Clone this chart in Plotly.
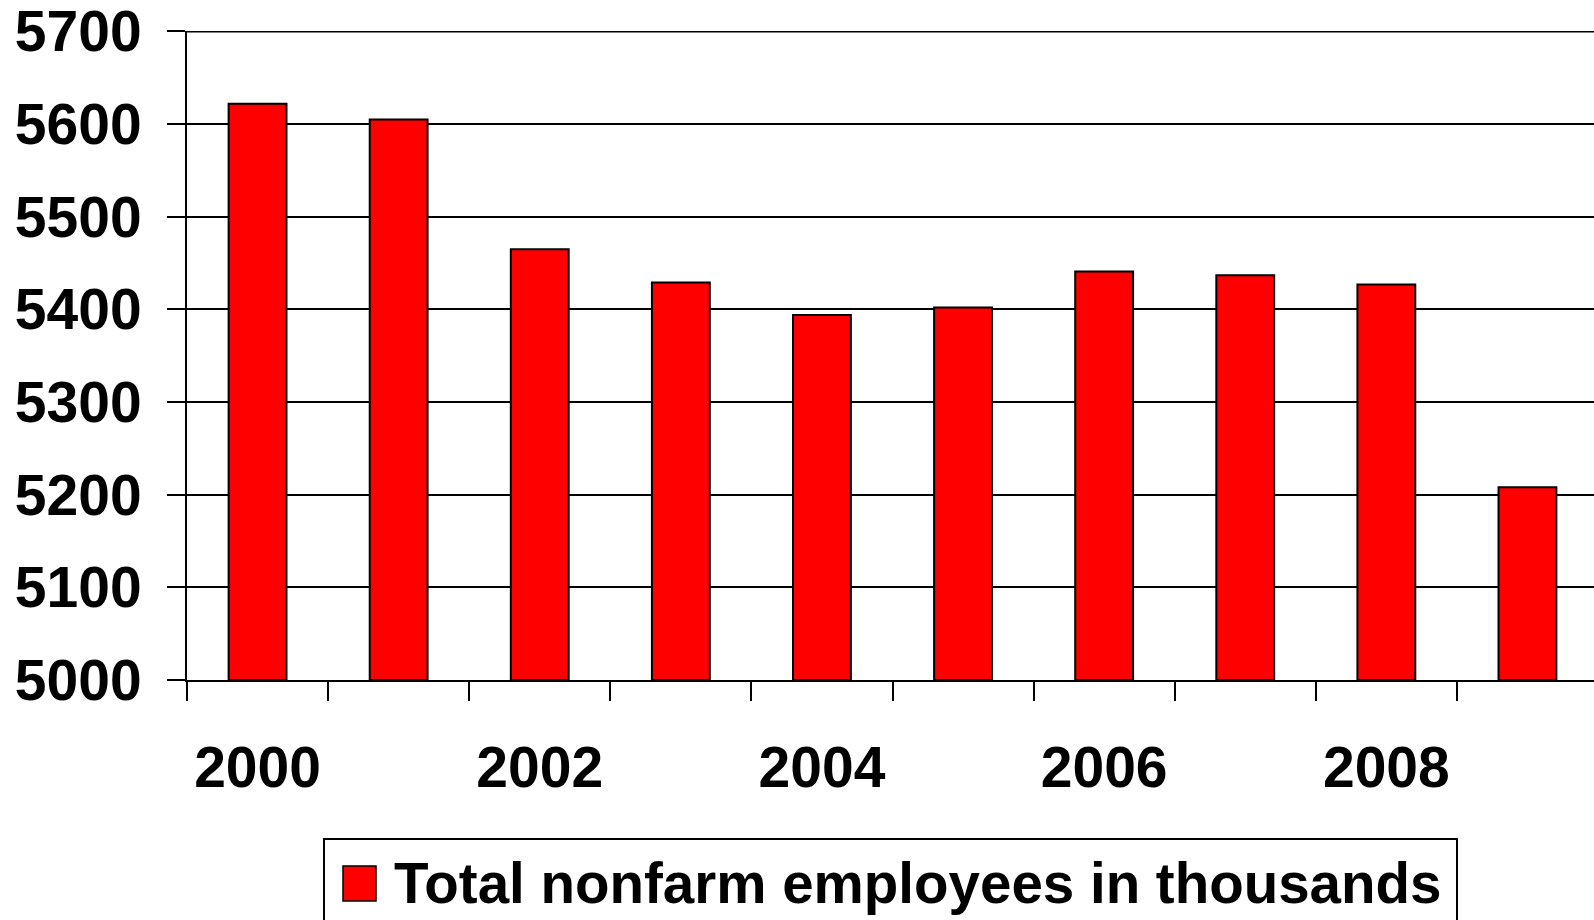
import plotly.graph_objects as go

years = [2000, 2001, 2002, 2003, 2004, 2005, 2006, 2007, 2008, 2009]
employees = [5622, 5605, 5465, 5429, 5394, 5402, 5441, 5437, 5427, 5208]
series_name = "Total nonfarm employees in thousands"
y_ticks = [5000, 5100, 5200, 5300, 5400, 5500, 5600, 5700]
x_label_years = years[::2]

W, H = 1594, 920
ML, MR, MT, MB = 187, 0, 31.3, 240
PW, PH = W - ML - MR, H - MT - MB
CAT_W = 141.1  # pixels per category

FONT = "Liberation Sans, Arial, sans-serif"


def px_x(p):
    return (p - ML) / PW


def px_y(p):
    return (H - MB - p) / PH


fig = go.Figure()
fig.add_trace(go.Bar(
    x=years,
    y=[v - 5000 for v in employees],
    base=5000,
    width=0.41,
    marker=dict(color="#ff0000", line=dict(color="black", width=2)),
    name=series_name,
    showlegend=False,
))

fig.update_layout(
    width=W, height=H,
    margin=dict(l=ML, r=MR, t=MT, b=MB, pad=0, autoexpand=False),
    plot_bgcolor="white", paper_bgcolor="white",
    font=dict(family=FONT, color="black"),
    bargap=0.59,
)

fig.update_yaxes(
    range=[y_ticks[0], y_ticks[-1] + 0.5],
    tickvals=y_ticks,
    ticktext=[str(v) for v in y_ticks],
    tickfont=dict(size=57, family=FONT, weight="bold", color="black"),
    showgrid=True, gridcolor="black", gridwidth=2,
    showline=True, linecolor="black", linewidth=2,
    ticks="outside", ticklen=18, tickwidth=2, tickcolor="black",
    ticklabelstandoff=14,
    ticklabeloverflow="allow",
    zeroline=False,
    automargin=False,
)

fig.update_xaxes(
    range=[years[0] - 0.5, years[0] - 0.5 + PW / CAT_W],
    tickvals=x_label_years,
    ticktext=[str(v) for v in x_label_years],
    tickfont=dict(size=57, family=FONT, weight="bold", color="black"),
    ticks="",
    showgrid=False,
    showline=True, linecolor="black", linewidth=2,
    ticklabelstandoff=37,
    minor=dict(
        tickvals=[y - 0.5 for y in years],
        ticks="outside", ticklen=19, tickwidth=2, tickcolor="black",
        showgrid=False,
    ),
    zeroline=False,
    automargin=False,
)

# top gridline (plotly omits a grid line at the range edge)
fig.add_shape(type="line", xref="paper", yref="y",
              x0=0, x1=1, y0=y_ticks[-1], y1=y_ticks[-1],
              line=dict(color="black", width=2), layer="below")

# Custom legend (box, swatch, label)
fig.add_shape(type="rect", xref="paper", yref="paper",
              x0=px_x(324), x1=px_x(1457), y0=px_y(839), y1=px_y(940),
              line=dict(color="black", width=2), fillcolor="white", layer="above")
fig.add_shape(type="rect", xref="paper", yref="paper",
              x0=px_x(343), x1=px_x(376), y0=px_y(866), y1=px_y(901),
              line=dict(color="black", width=1.5), fillcolor="#ff0000", layer="above")
fig.add_annotation(xref="paper", yref="paper",
                   x=px_x(392), y=px_y(883), xanchor="left", yanchor="middle",
                   text=series_name, showarrow=False,
                   font=dict(size=56.5, family=FONT, weight="bold", color="black"))

fig.write_html("out.html",
               config={"displayModeBar": False},
               post_script="document.body.style.margin='0';document.body.style.padding='0';")
